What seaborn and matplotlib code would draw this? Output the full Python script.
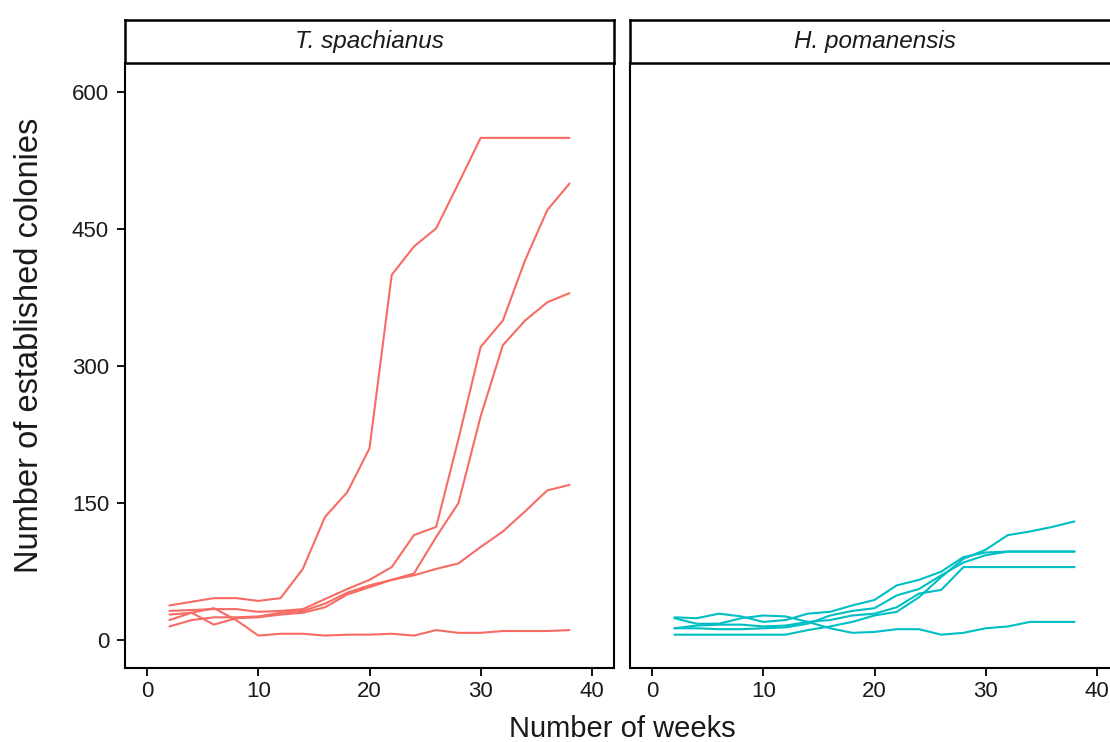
import numpy as np
import pandas as pd
import seaborn as sns
import matplotlib.pyplot as plt

# weeks of observation (every 2 weeks)
weeks = [2, 4, 6, 8, 10, 12, 14, 16, 18, 20, 22, 24, 26, 28, 30, 32, 34, 36, 38]

# T. spachianus plants
ts_1 = [38, 42, 46, 46, 43, 46, 78, 135, 162, 210, 400, 431, 451, 500, 550, 550, 550, 550, 550]
ts_2 = [32, 33, 34, 34, 31, 32, 34, 45, 56, 66, 80, 115, 124, 220, 321, 350, 416, 471, 500]
ts_3 = [22, 30, 35, 22, 5, 7, 7, 5, 6, 6, 7, 5, 11, 8, 8, 10, 10, 10, 11]
ts_4 = [28, 30, 17, 24, 25, 28, 30, 36, 50, 58, 66, 73, 113, 150, 245, 323, 350, 370, 380]
ts_5 = [15, 22, 25, 25, 26, 30, 32, 40, 52, 60, 66, 71, 78, 84, 102, 119, 141, 164, 170]

# H. pomanensis plants
hp_1 = [6, 6, 6, 6, 6, 6, 11, 15, 20, 27, 31, 47, 69, 89, 99, 115, 119, 124, 130]
hp_2 = [13, 16, 17, 17, 15, 16, 20, 22, 27, 29, 36, 51, 55, 80, 80, 80, 80, 80, 80]
hp_3 = [13, 13, 12, 12, 13, 14, 18, 27, 32, 35, 49, 56, 71, 85, 93, 97, 97, 97, 97]
hp_4 = [25, 24, 29, 26, 20, 22, 29, 31, 38, 44, 60, 66, 75, 91, 96, 97, 97, 97, 97]
hp_5 = [24, 18, 18, 24, 27, 26, 20, 13, 8, 9, 12, 12, 6, 8, 13, 15, 20, 20, 20]

species = ['T. spachianus', 'H. pomanensis']
colors = ['#F66C65', '#00BFC4']
series = {'T. spachianus': [ts_1, ts_2, ts_3, ts_4, ts_5],
          'H. pomanensis': [hp_1, hp_2, hp_3, hp_4, hp_5]}

# long format table for seaborn
rows = []
for sp in species:
    for i, vals in enumerate(series[sp]):
        for w, v in zip(weeks, vals):
            rows.append({'species': sp, 'plant': f'{sp}_{i}', 'week': w, 'colonies': v})
df = pd.DataFrame(rows)

sns.set_theme(style='white')
plt.rcParams['font.family'] = ['Liberation Sans', 'DejaVu Sans']

W, H = 1110, 742
fig = plt.figure(figsize=(W / 100, H / 100), dpi=100)

panel_left = [125, 630]
panel_w = 489
panel_top, panel_bottom, strip_top = 63, 668, 20

for k, sp in enumerate(species):
    ax = fig.add_axes([panel_left[k] / W, (H - panel_bottom) / H,
                       panel_w / W, (panel_bottom - panel_top) / H])
    sns.lineplot(data=df[df['species'] == sp], x='week', y='colonies', units='plant',
                 estimator=None, color=colors[k], linewidth=1.5, ax=ax, legend=False)
    ax.set_xlim(-2, 42)
    ax.set_ylim(-30.5, 632)
    ax.set_xticks([0, 10, 20, 30, 40])
    ax.set_yticks([0, 150, 300, 450, 600])
    ax.set_xlabel('')
    ax.set_ylabel('')
    for s in ax.spines.values():
        s.set_color('black')
        s.set_linewidth(1.5)
    ax.tick_params(axis='both', which='both', direction='out', length=5.5, width=1.3,
                   color='black', labelsize=16, labelcolor='#1a1a1a', pad=4,
                   bottom=True, left=True)
    ax.tick_params(axis='y', pad=6)
    if k == 1:
        ax.tick_params(axis='y', left=False, labelleft=False)

    # facet strip
    sax = fig.add_axes([panel_left[k] / W, (H - panel_top) / H,
                        panel_w / W, (panel_top - strip_top) / H])
    sax.set_xticks([])
    sax.set_yticks([])
    for s in sax.spines.values():
        s.set_color('black')
        s.set_linewidth(1.8)
    sax.text(0.5, 0.5, sp, ha='center', va='center', fontsize=17.5, style='italic',
             color='#1a1a1a', transform=sax.transAxes)

fig.text(622 / W, (H - 729) / H, 'Number of weeks', ha='center', va='center',
         fontsize=21, color='#1a1a1a')
fig.text(30 / W, (H - 345) / H, 'Number of established colonies', ha='center', va='center',
         rotation=90, fontsize=23.5, color='#1a1a1a')

plt.savefig('out.png', dpi=100)
